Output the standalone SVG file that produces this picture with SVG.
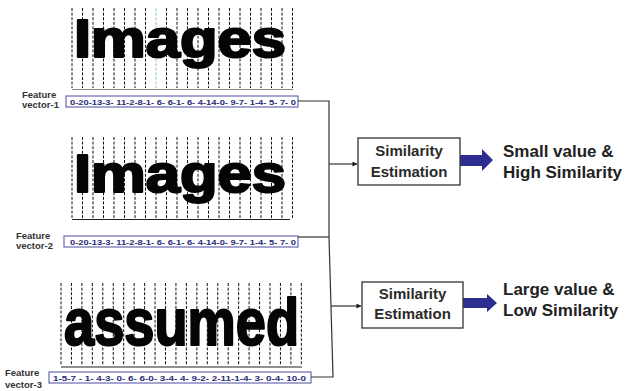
<svg xmlns="http://www.w3.org/2000/svg" width="632" height="391" viewBox="0 0 632 391">
  <style>
    .cols { fill: none; stroke: #111; stroke-width: 1; stroke-dasharray: 3 1.6; }
    .base { fill: none; stroke: #222; stroke-width: 1.2; }
    .word { font-family: "Liberation Sans", Arial, sans-serif; font-weight: bold; fill: #050505; stroke: #050505; stroke-width: 2.2; stroke-linejoin: round; }
    .lbl { font-family: "Liberation Sans", Arial, sans-serif; font-weight: bold; font-size: 9.5px; fill: #333; }
    .vbox { fill: #fff; stroke: #6a6ab4; stroke-width: 1.2; }
    .vtxt { font-family: "Liberation Sans", Arial, sans-serif; font-weight: bold; font-size: 7.5px; fill: #2b2b7a; }
    .sbox { fill: #fff; stroke: #333; stroke-width: 1.3; }
    .stxt { font-family: "Liberation Sans", Arial, sans-serif; font-weight: bold; font-size: 15px; fill: #2a2a2a; text-anchor: middle; }
    .rtxt { font-family: "Liberation Sans", Arial, sans-serif; font-weight: bold; font-size: 17px; fill: #222; }
    .wire { fill: none; stroke: #333; stroke-width: 1.2; }
    .fat { fill: #2d2d8f; }
  </style>
  <defs>
    <marker id="tip" viewBox="0 0 6 6" refX="5.5" refY="3" markerWidth="5" markerHeight="5" orient="auto" markerUnits="userSpaceOnUse">
      <path d="M0,0 L6,3 L0,6 Z" fill="#222"/>
    </marker>
  </defs>

  <!-- word 1 with column grid -->
  <g id="word-1">
    <path class="cols" d="M72,8V88 M82.5,8V88 M93,8V88 M103.5,8V88 M114,8V88 M124.5,8V88 M135,8V88 M145.5,8V88 M166.5,8V88 M177,8V88 M187.5,8V88 M198,8V88 M208.5,8V88 M219,8V88 M229.5,8V88 M240,8V88 M250.5,8V88 M261,8V88 M271.5,8V88 M282,8V88 M292.5,8V88"/>
    <path class="cols" style="stroke:#8fcf8f" d="M156,8V88"/>
    <path class="base" style="stroke:#666;stroke-width:0.8" d="M72,89.5H293"/>
    <text class="word" x="74" y="57" font-size="53" textLength="212" lengthAdjust="spacingAndGlyphs">Images</text>
  </g>

  <g id="vector-1">
    <text class="lbl" x="22" y="98">Feature</text>
    <text class="lbl" x="22" y="107.5">vector-1</text>
    <rect class="vbox" x="66" y="96" width="232" height="11"/>
    <text class="vtxt" x="70" y="104.5" textLength="226" lengthAdjust="spacingAndGlyphs">0-20-13-3- 11-2-8-1- 6- 6-1- 6- 4-14-0- 9-7- 1-4- 5- 7- 0</text>
  </g>

  <!-- word 2 with column grid -->
  <g id="word-2">
    <path class="cols" d="M72,137V218 M82.5,137V218 M93,137V218 M103.5,137V218 M114,137V218 M124.5,137V218 M135,137V218 M145.5,137V218 M156,137V218 M166.5,137V218 M177,137V218 M187.5,137V218 M198,137V218 M208.5,137V218 M219,137V218 M229.5,137V218 M240,137V218 M250.5,137V218 M261,137V218 M271.5,137V218 M282,137V218 M292.5,137V218"/>
    <path class="base" d="M72,219.5H290"/>
    <text class="word" x="74" y="192" font-size="53" textLength="212" lengthAdjust="spacingAndGlyphs">Images</text>
  </g>

  <g id="vector-2">
    <text class="lbl" x="16" y="239">Feature</text>
    <text class="lbl" x="16" y="248.5">vector-2</text>
    <rect class="vbox" x="64" y="236" width="234" height="11"/>
    <text class="vtxt" x="70" y="244.5" textLength="226" lengthAdjust="spacingAndGlyphs">0-20-13-3- 11-2-8-1- 6- 6-1- 6- 4-14-0- 9-7- 1-4- 5- 7- 0</text>
  </g>

  <!-- word 3 with column grid -->
  <g id="word-3">
    <path class="cols" d="M61,283V365 M71.45,283V365 M81.9,283V365 M92.35,283V365 M102.8,283V365 M113.25,283V365 M123.7,283V365 M134.15,283V365 M144.6,283V365 M155.05,283V365 M165.5,283V365 M175.95,283V365 M186.4,283V365 M196.85,283V365 M207.3,283V365 M217.75,283V365 M228.2,283V365 M238.65,283V365 M249.1,283V365 M259.55,283V365 M270,283V365 M280.45,283V365 M290.9,283V365 M301.35,283V365"/>
    <path class="base" d="M61,367H302"/>
    <text class="word" x="64" y="345" font-size="67" textLength="235" lengthAdjust="spacingAndGlyphs">assumed</text>
  </g>

  <g id="vector-3">
    <text class="lbl" x="5" y="376">Feature</text>
    <text class="lbl" x="5" y="388">vector-3</text>
    <rect class="vbox" x="49" y="372" width="262" height="11"/>
    <text class="vtxt" x="53" y="380.5" textLength="253" lengthAdjust="spacingAndGlyphs">1-5-7 - 1- 4-3- 0- 6- 6-0- 3-4- 4- 9-2- 2-11-1-4- 3- 0-4- 10-0</text>
  </g>

  <!-- connectors -->
  <g id="connectors">
    <path class="wire" d="M298,101 H329 V237 L333,377 H311"/>
    <path class="wire" d="M298,237 H329"/>
    <path class="wire" d="M329,164 H357" marker-end="url(#tip)"/>
    <path class="wire" d="M331,306 H361" marker-end="url(#tip)"/>
    <polygon class="fat" points="460,155 482,155 482,149 493,160 482,171 482,166 460,166"/>
    <polygon class="fat" points="463,298 487,298 487,294 497,303 487,312 487,308 463,308"/>
  </g>

  <g id="estimate-1">
    <rect class="sbox" x="358" y="138" width="102" height="47"/>
    <text class="stxt" x="409" y="156">Similarity</text>
    <text class="stxt" x="409" y="177">Estimation</text>
  </g>

  <g id="estimate-2">
    <rect class="sbox" x="362" y="282" width="101" height="46"/>
    <text class="stxt" x="412.5" y="298.5">Similarity</text>
    <text class="stxt" x="412.5" y="319">Estimation</text>
  </g>

  <g id="result-1">
    <text class="rtxt" x="503" y="157">Small value &amp;</text>
    <text class="rtxt" x="503" y="178">High Similarity</text>
  </g>

  <g id="result-2">
    <text class="rtxt" x="503" y="295">Large value &amp;</text>
    <text class="rtxt" x="503" y="315.5">Low Similarity</text>
  </g>
</svg>
